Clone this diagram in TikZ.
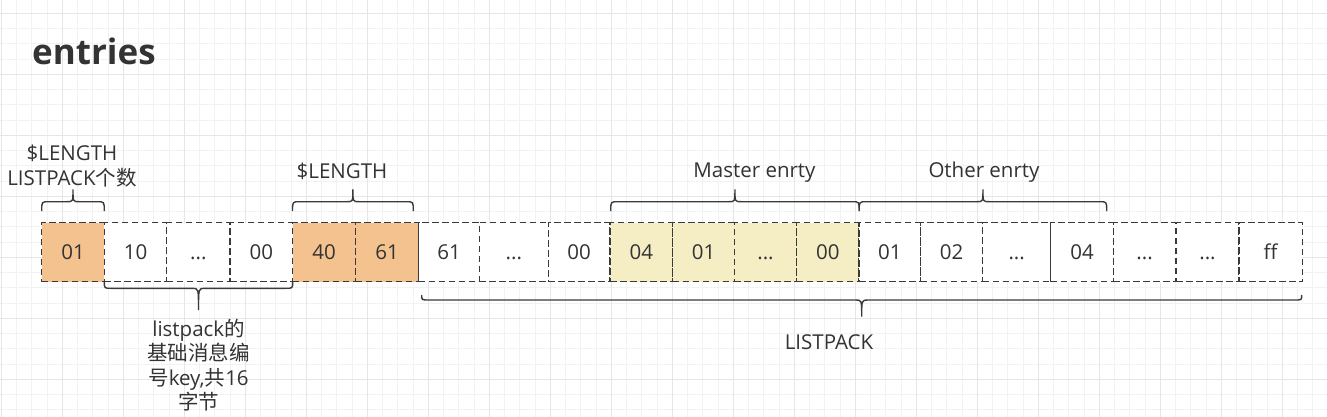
\documentclass[tikz,border=0pt]{standalone}
\usepackage{fontspec}
\setmainfont{Open Sans}
\newfontfamily\cjk{Noto Sans CJK SC}
\definecolor{orangefill}{HTML}{F4C28F}
\definecolor{yellowfill}{HTML}{F5EEC5}
\definecolor{textc}{HTML}{333333}
\definecolor{linec}{HTML}{3A3A3A}
\definecolor{gridminor}{HTML}{F2F2F2}
\definecolor{gridmajor}{HTML}{E6E6E6}
\newcommand\dd{...}
\newcommand\hbrace[5]{%
  \pgfmathsetmacro\bm{(#1+#2)/2}%
  \draw[bracestyle] (#1,#3) .. controls (#1,#4) .. ({#1+7},#4) -- ({\bm-6},#4)
    .. controls (\bm,#4) .. (\bm,#5) .. controls (\bm,#4) .. ({\bm+6},#4)
    -- ({#2-7},#4) .. controls (#2,#4) .. (#2,#3);%
}
\begin{document}
\begin{tikzpicture}[x=1pt,y=-1pt,
  cellbox/.style={draw=linec, line width=1.5pt, dash pattern=on 6.5pt off 3.5pt,
    minimum height=59pt, inner sep=0pt, text=textc, text height=14.6pt, text depth=0pt,
    font=\fontsize{20.5}{25}\selectfont},
  bracestyle/.style={draw=linec, line width=1.4pt},
  lbl/.style={text=textc, font=\fontsize{20.5}{24.5}\selectfont, align=center, inner sep=0pt},
  lbl1/.style={lbl, text height=14.6pt, text depth=0pt}]
\useasboundingbox (0,0) rectangle (1327,417);
\fill[white] (0,0) rectangle (1327,417);
% grid
\foreach \i in {0,...,87} {\pgfmathsetmacro\gx{1.3+15.25*\i}
  \draw[gridminor, line width=1pt] (\gx,0) -- (\gx,417);}
\foreach \j in {0,...,28} {\pgfmathsetmacro\gy{-1.95+15.25*\j}
  \draw[gridminor, line width=1pt] (0,\gy) -- (1327,\gy);}
\foreach \i in {0,...,21} {\pgfmathsetmacro\gx{1.3+61*\i}
  \draw[gridmajor, line width=1pt] (\gx,0) -- (\gx,417);}
\foreach \j in {0,...,6} {\pgfmathsetmacro\gy{13.3+61*\j}
  \draw[gridmajor, line width=1pt] (0,\gy) -- (1327,\gy);}
% title
\node[anchor=base west, inner sep=0pt, text=textc, font=\fontsize{35}{40}\selectfont\bfseries] (title) at (32,64.3) {entries};
% cells
\foreach \n/\a/\b/\t/\f in {
  1/41.7/104.3/01/orangefill, 2/104.3/166.7/10/white, 3/166.7/230/\dd/white,
  4/230/292.7/00/white, 5/292.7/355.7/40/orangefill, 6/355.7/418.7/61/orangefill,
  7/418.7/479.3/61/white, 8/479.3/548.3/\dd/white, 9/548.3/610/00/white,
  10/610/672.7/04/yellowfill, 11/672.7/734.3/01/yellowfill, 12/734.3/796.7/\dd/yellowfill,
  13/796.7/859/00/yellowfill, 14/859/920.7/01/white, 15/920.7/982.7/02/white,
  16/982.7/1050.7/\dd/white, 17/1050.7/1113.3/04/white, 18/1113.3/1176/\dd/white,
  19/1176/1239/\dd/white, 20/1239/1302.3/ff/white} {
  \pgfmathsetmacro\w{\b-\a}
  \pgfmathsetmacro\c{(\a+\b)/2}
  \node[cellbox, fill=\f, minimum width=\w pt] (c\n) at (\c,252.2) {\t};
}
% braces
\hbrace{41.7}{104.3}{211}{201.7}{189.5}
\hbrace{292.5}{413.3}{211}{201.7}{189.5}
\hbrace{610.7}{859.2}{211}{201.7}{189.5}
\hbrace{859.2}{1106.7}{211}{201.7}{189.5}
\hbrace{104.3}{292.7}{282}{288.3}{310}
\hbrace{421.7}{1301.7}{295}{300}{316.7}
% labels
\node[lbl, font=\fontsize{20.5}{25}\selectfont] (l1) at (72,166) {\$LENGTH\\LISTPACK{\cjk 个数}};
\node[lbl1] (l2) at (342,171) {\$LENGTH};
\node[lbl1] (l3) at (754.5,170) {Master enrty};
\node[lbl1] (l4) at (984,170) {Other enrty};
\node[lbl1] (l5) at (829,342) {LISTPACK};
\node[lbl] (l6) at (198.5,365) {listpack{\cjk 的}\\{\cjk 基础消息编}\\{\cjk 号}key,{\cjk 共}16\\{\cjk 字节}};
\end{tikzpicture}
\end{document}
